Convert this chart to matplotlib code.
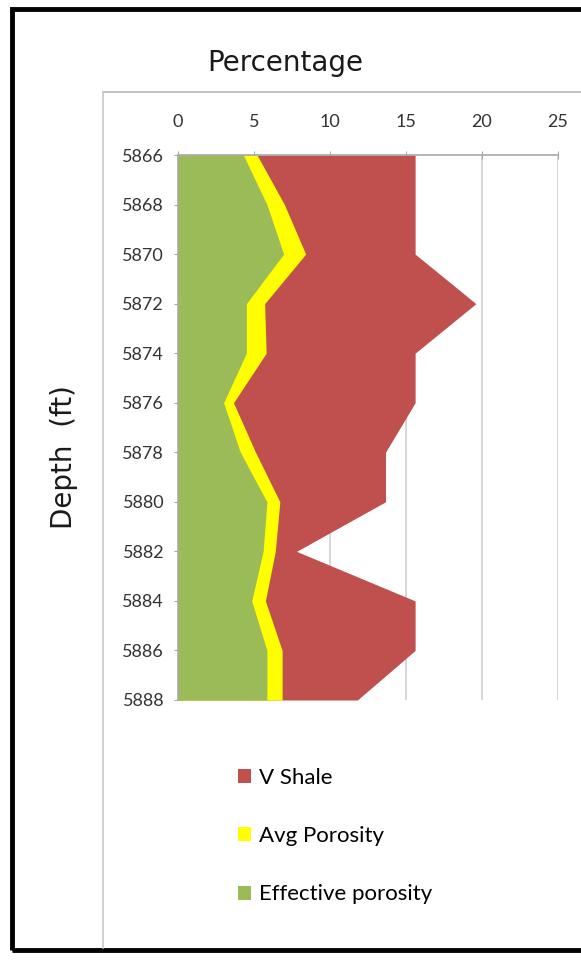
import matplotlib.pyplot as plt
from matplotlib.lines import Line2D
from matplotlib.patches import Rectangle

plt.rcParams['font.family'] = ['Lato', 'DejaVu Sans']

# depth log, one reading every 2 ft
depth = [5866, 5868, 5870, 5872, 5874, 5876, 5878, 5880, 5882, 5884, 5886, 5888]
v_shale = [15.6, 15.6, 15.6, 19.6, 15.6, 15.6, 13.65, 13.65, 7.8, 15.6, 15.6, 11.8]
avg_porosity = [5.2, 7.0, 8.4, 5.7, 5.8, 3.65, 5.1, 6.7, 6.4, 5.75, 6.85, 6.85]
eff_porosity = [4.3, 5.85, 6.95, 4.5, 4.5, 3.0, 4.1, 5.85, 5.6, 4.85, 5.85, 5.85]

x_ticks = [0, 5, 10, 15, 20, 25]
depth_ticks = list(range(5866, 5890, 2))

red = '#C0504D'
yellow = '#FFFF00'
green = '#9BBB59'
W, H = 581, 960

fig = plt.figure(figsize=(W / 100, H / 100), dpi=100)

# outer black frame and grey chart-area border
fig.patches.append(Rectangle((12 / W, 1 - 950 / H), 1.2, 941 / H, transform=fig.transFigure,
                             fill=False, edgecolor='black', linewidth=3.5, zorder=0))
fig.lines.append(Line2D([103 / W, 1.0], [1 - 92 / H, 1 - 92 / H], transform=fig.transFigure,
                        color='#b8b8b8', linewidth=1.2))
fig.lines.append(Line2D([103 / W, 103 / W], [1 - 92 / H, 1 - 948 / H], transform=fig.transFigure,
                        color='#c8c8c8', linewidth=1.2))

ax = fig.add_axes([178 / W, 1 - 700 / H, 380 / W, 545 / H])
ax.fill_betweenx(depth, 0, v_shale, color=red, linewidth=0, label='V Shale')
ax.fill_betweenx(depth, 0, avg_porosity, color=yellow, linewidth=0, label='Avg Porosity')
ax.fill_betweenx(depth, 0, eff_porosity, color=green, linewidth=0, label='Effective porosity')

ax.set_xlim(0, 25)
ax.set_ylim(5888, 5866)
ax.set_xticks(x_ticks)
ax.set_yticks(depth_ticks)
ax.xaxis.tick_top()
ax.grid(axis='x', color='#d0d0d0', linewidth=1.2)
ax.set_axisbelow(True)
for side in ['right', 'bottom']:
    ax.spines[side].set_visible(False)
for side in ['top', 'left']:
    ax.spines[side].set_color('#a8a8a8')
    ax.spines[side].set_linewidth(1.2)
ax.tick_params(axis='both', direction='inout', length=6, color='#a8a8a8',
               labelsize=13, labelcolor='#333333')
ax.tick_params(axis='x', pad=15)
ax.tick_params(axis='y', pad=7)

fig.text(285 / W, 1 - 63 / H, 'Percentage', fontsize=20, family='DejaVu Sans',
         ha='center', va='center', color='#1a1a1a')
fig.text(64 / W, 1 - 457 / H, 'Depth  (ft)', fontsize=20, family='DejaVu Sans',
         rotation=90, ha='center', va='center', color='#1a1a1a')

handles, labels = ax.get_legend_handles_labels()
fig.legend(handles, labels, loc='upper left', bbox_to_anchor=(218 / W, 1 - 748 / H),
           frameon=False, fontsize=16, handlelength=0.6, handleheight=0.6,
           handletextpad=0.35, labelspacing=1.72)

fig.savefig('out.png', dpi=100)
